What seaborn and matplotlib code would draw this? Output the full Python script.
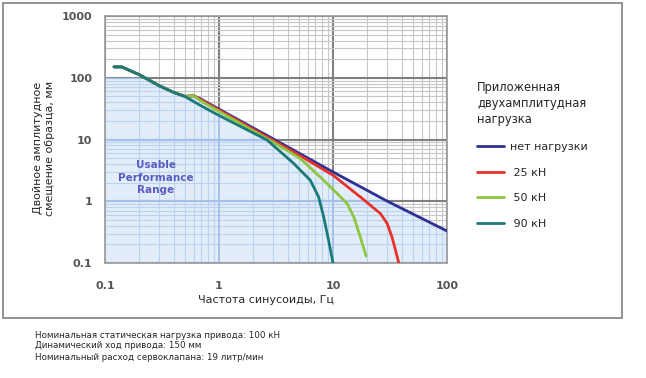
import numpy as np
import pandas as pd
import matplotlib
matplotlib.use("Agg")
import matplotlib.pyplot as plt
from matplotlib.patches import Rectangle
from matplotlib.ticker import LogLocator, NullFormatter
import seaborn as sns

# -------------------------------
# Data (frequency Hz -> displacement mm)
# -------------------------------
common_f = [0.12, 0.14, 0.2, 0.3, 0.4, 0.5]
common_d = [150, 150, 112, 74, 58, 50]

noload_f = [0.6, 0.68, 1.0, 3.0, 10.0, 30.0, 100.0]
noload_d = [51, 46, 31, 10.2, 2.98, 1.0, 0.33]

kn25_f = [0.6, 0.68, 1.0, 3.0, 5.2, 10.0, 17.4, 26.1, 29.9, 33.0, 37.8]
kn25_d = [51, 45, 30, 9.6, 5.4, 2.64, 1.17, 0.63, 0.435, 0.26, 0.1]

kn50_f = [0.6, 0.68, 1.0, 3.0, 5.17, 8.28, 13.3, 15.2, 17.4, 19.5]
kn50_d = [51, 43, 28.5, 9.0, 4.92, 2.19, 0.92, 0.56, 0.26, 0.13]

kn90_f = [0.68, 1.0, 2.64, 4.52, 6.32, 7.48, 8.28, 9.16, 10.0]
kn90_d = [36, 24.5, 9.8, 4.1, 2.19, 1.17, 0.56, 0.23, 0.1]

labels = ["нет нагрузки", " 25 кН", " 50 кН", " 90 кН"]
colors = ["#2e3192", "#e8312a", "#8dc63f", "#1a7a78"]

x_ticks = [0.1, 1, 10, 100]
x_tick_labels = ["0.1", "1", "10", "100"]
y_ticks = [0.1, 1, 10, 100, 1000]
y_tick_labels = ["0.1", "1", "10", "100", "1000"]

footer = ["Номинальная статическая нагрузка привода: 100 кН",
          "Динамический ход привода: 150 мм",
          "Номинальный расход сервоклапана: 19 литр/мин"]

# -------------------------------
# Build long table
# -------------------------------
rows = []
for lab, fs, ds in zip(labels,
                       [noload_f, kn25_f, kn50_f, kn90_f],
                       [noload_d, kn25_d, kn50_d, kn90_d]):
    for i, (f, d) in enumerate(zip(common_f + fs, common_d + ds)):
        rows.append({"freq": f, "disp": d, "load": lab, "order": i})
df = pd.DataFrame(rows)

# -------------------------------
# Plot
# -------------------------------
sns.set_style("white")
plt.rcParams["font.family"] = ["DejaVu Sans"]

fig = plt.figure(figsize=(6.46, 3.78), dpi=100)
ax = fig.add_axes([105/646, 1 - 263/378, (447 - 105)/646, (263 - 16)/378])
ax.set_xscale("log")
ax.set_yscale("log")
ax.set_xlim(0.1, 100)
ax.set_ylim(0.1, 1000)

ax.set_xticks(x_ticks, x_tick_labels)
ax.set_yticks(y_ticks, y_tick_labels)
for axis in (ax.xaxis, ax.yaxis):
    axis.set_minor_locator(LogLocator(base=10, subs=range(2, 10)))
    axis.set_minor_formatter(NullFormatter())

# gray grid
ax.set_axisbelow(True)
ax.grid(True, which="major", color="#808080", lw=1.5)
ax.grid(True, which="minor", color="#c6c6c6", lw=0.8)

# usable performance range (under the no-load curve, capped at 100)
nl = df[df["load"] == labels[0]].sort_values("order")
fx = np.concatenate([[ax.get_xlim()[0]], nl["freq"].values])
fy = np.minimum(np.concatenate([[nl["disp"].values[0]], nl["disp"].values]), 100)
fill = ax.fill_between(fx, 0.1, fy, color="#e3edf9", lw=0, zorder=1)
clip = fill.get_paths()[0]
minor_x = [k * 10.0**e for e in range(-1, 2) for k in range(2, 10)]
minor_y = [k * 10.0**e for e in range(-1, 3) for k in range(2, 10)]
for lc in [ax.vlines(minor_x, 0.1, 1000, color="#bcd2f0", lw=0.8, zorder=1.2),
           ax.hlines(minor_y, 0.1, 100, color="#bcd2f0", lw=0.8, zorder=1.2),
           ax.vlines(x_ticks, 0.1, 1000, color="#a3c1ea", lw=1.4, zorder=1.3),
           ax.hlines(y_ticks, 0.1, 100, color="#a3c1ea", lw=1.6, zorder=1.3)]:
    lc.set_clip_path(clip, ax.transData)

sns.lineplot(data=df, x="freq", y="disp", hue="load", hue_order=labels,
             palette=colors, units="load", estimator=None, sort=False,
             lw=2.0, ax=ax, legend=False, zorder=3)

ax.text(0.28, 2.4, "Usable\nPerformance\nRange", ha="center", va="center",
        color="#5a5cc2", fontsize=7.5, fontweight="bold", linespacing=1.3,
        zorder=4)

ax.tick_params(axis="both", which="major", length=4, color="#999999", width=1,
               labelcolor="#555555", labelsize=8, direction="out")
ax.tick_params(axis="both", which="minor", length=0)
ax.tick_params(axis="x", pad=9)
ax.tick_params(axis="y", pad=5)
for t in ax.get_xticklabels() + ax.get_yticklabels():
    t.set_fontweight("bold")
for s in ax.spines.values():
    s.set_color("#999999")
    s.set_linewidth(1.2)
ax.set_xlabel("")
ax.set_ylabel("")

fig.text(44/646, 1 - 148/378, "Двойное амплитудное\nсмещение образца, мм",
         rotation=90, ha="center", va="center", fontsize=8, linespacing=1.25)
fig.text(266/646, 1 - 300/378, "Частота синусоиды, Гц", ha="center",
         va="center", fontsize=8)

handles = ax.get_lines()[:4]
leg = fig.legend(handles, labels, title="Приложенная\nдвухамплитудная\nнагрузка",
                 loc="upper left", bbox_to_anchor=(467/646, 1 - 71/378),
                 frameon=False, fontsize=8, title_fontproperties={"size": 8.3},
                 handlelength=2.4, handletextpad=0.6, labelspacing=1.42,
                 alignment="left")
leg.get_title().set_linespacing(1.3)

# outer frame
fig.patches.append(Rectangle((3/646, 1 - 318/378), 619/646, 315/378,
                             transform=fig.transFigure, fill=False,
                             edgecolor="#8a8a8a", lw=1.3))

for i, line in enumerate(footer):
    fig.text(35/646, 1 - (335 + 11*i)/378, line, ha="left", va="center",
             fontsize=6.3)

fig.savefig("out.png", dpi=100)
